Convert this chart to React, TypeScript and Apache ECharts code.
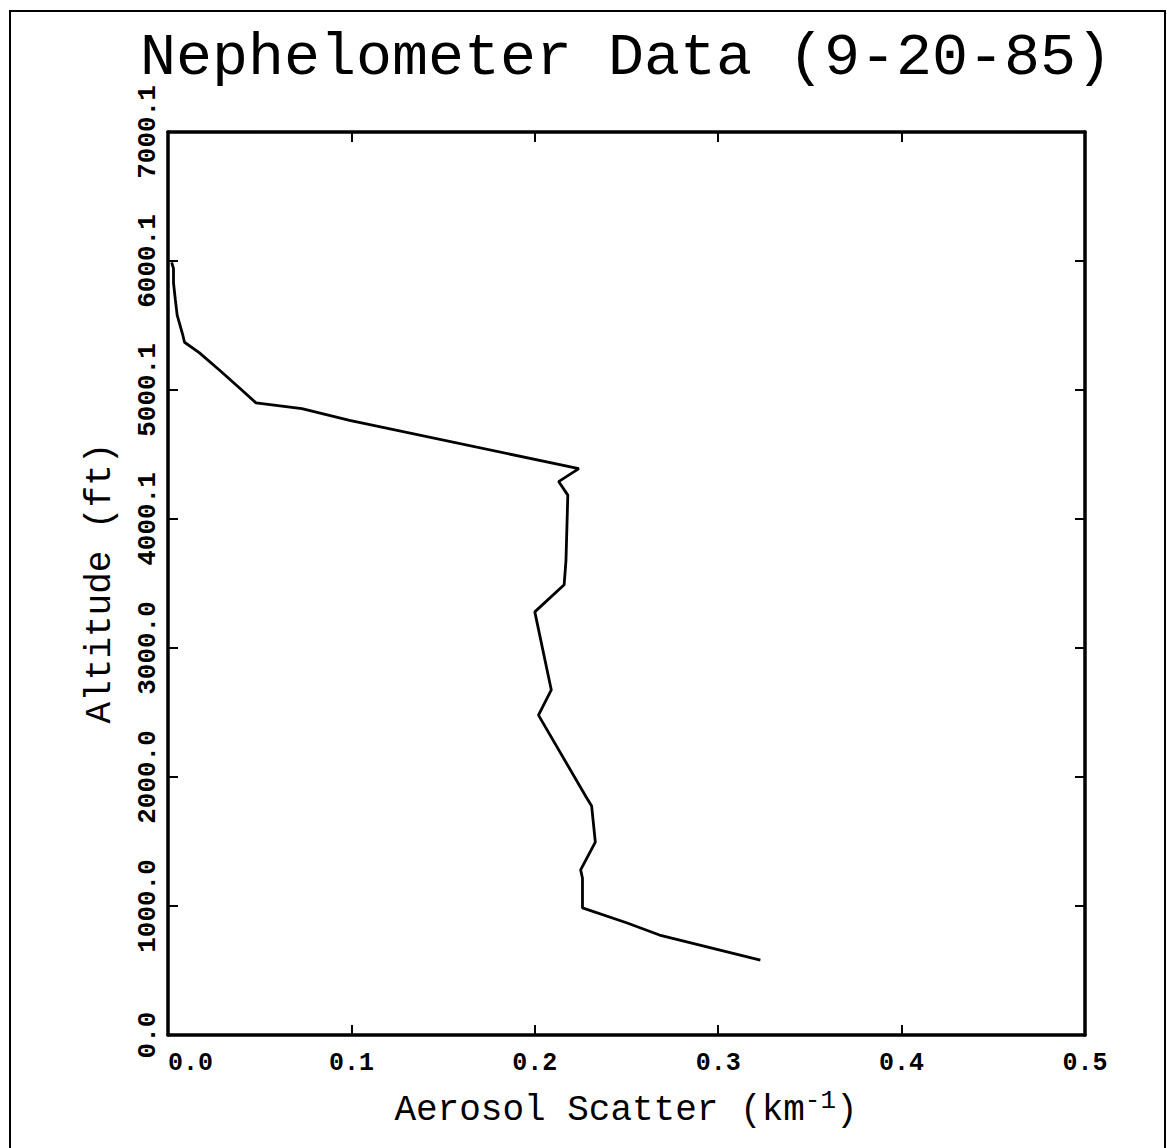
import React, { useEffect, useRef } from "react";
import * as echarts from "echarts";

const titleText = "Nephelometer Data (9-20-85)";
const xAxisNameMain = "Aerosol Scatter (km";
const xAxisNameSup = "-1";
const xAxisNameEnd = ")";
const yAxisName = "Altitude (ft)";
const xTickLabels = ["0.0", "0.1", "0.2", "0.3", "0.4", "0.5"];
const yTickLabels = ["0.0", "1000.0", "2000.0", "3000.0", "4000.1", "5000.1", "6000.1", "7000.1"];

const scatter = [
  0.002, 0.003, 0.003, 0.004, 0.005, 0.008, 0.009, 0.017, 0.028, 0.039,
  0.048, 0.073, 0.099, 0.224, 0.213, 0.218, 0.217, 0.216, 0.2, 0.209,
  0.202, 0.228, 0.231, 0.233, 0.225, 0.226, 0.226, 0.25, 0.268, 0.323,
];
const altitude = [
  5990, 5940, 5830, 5700, 5580, 5430, 5370, 5290, 5155, 5015,
  4900, 4855, 4765, 4390, 4290, 4185, 3680, 3490, 3280, 2675,
  2480, 1845, 1775, 1495, 1280, 1215, 985, 870, 775, 580,
];

const FONT = "'Liberation Mono', 'DejaVu Sans Mono', monospace";

export default function App() {
  const ref = useRef<HTMLDivElement>(null);
  useEffect(() => {
    const chart = echarts.init(ref.current!, null, { renderer: "svg" });
    const data = scatter.map((v, i) => [v, altitude[i]]);
    const line = { show: true, onZero: false, lineStyle: { color: "#000", width: 3.5 } };
    const tick = { show: true, inside: true, length: 10, lineStyle: { color: "#000", width: 2 } };
    const xBase = { type: "value", min: 0, max: 0.5, interval: 0.1, axisLine: line, axisTick: tick, splitLine: { show: false } };
    const yBase = { type: "value", min: 0, max: 7000, interval: 1000, axisLine: line, axisTick: tick, splitLine: { show: false } };
    chart.setOption({
      animation: false,
      backgroundColor: "#fff",
      grid: { left: 168, top: 132, right: 82, bottom: 113 },
      xAxis: [
        {
          ...xBase,
          position: "bottom",
          axisLabel: {
            formatter: (v: number) => xTickLabels[Math.round(v * 10)],
            fontFamily: FONT,
            fontSize: 25,
            fontWeight: "bold",
            color: "#000",
            margin: 16,
            alignMinLabel: "left",
          },
        },
        { ...xBase, position: "top", axisLabel: { show: false } },
      ],
      yAxis: [
        {
          ...yBase,
          position: "left",
          axisLabel: {
            formatter: (v: number) => yTickLabels[Math.round(v / 1000)],
            fontFamily: FONT,
            fontSize: 26,
            fontWeight: "bold",
            color: "#000",
            rotate: 90,
            margin: 7,
          },
        },
        { ...yBase, position: "right", axisLabel: { show: false } },
      ],
      series: [
        {
          type: "line",
          data,
          xAxisIndex: 0,
          yAxisIndex: 0,
          showSymbol: false,
          lineStyle: { color: "#000", width: 2.8 },
        },
      ],
      graphic: [
        {
          type: "rect",
          shape: { x: 10, y: 11, width: 1155, height: 1200 },
          style: { fill: "none", stroke: "#000", lineWidth: 2 },
          silent: true,
        },
        {
          type: "text",
          x: 626,
          y: 58,
          style: {
            text: titleText,
            fontFamily: FONT,
            fontSize: 60,
            fill: "#000",
            textAlign: "center",
            textVerticalAlign: "middle",
          },
        },
        {
          type: "text",
          x: 626,
          y: 1110,
          style: {
            text: `{a|${xAxisNameMain}}{s|${xAxisNameSup}}{a|${xAxisNameEnd}}`,
            textAlign: "center",
            textVerticalAlign: "middle",
            fill: "#000",
            rich: {
              a: { fontFamily: FONT, fontSize: 36, lineHeight: 44, fill: "#000" },
              s: { fontFamily: FONT, fontSize: 26, lineHeight: 44, verticalAlign: "top", fill: "#000" },
            },
          },
        },
        {
          type: "text",
          x: 100,
          y: 583,
          rotation: Math.PI / 2,
          style: {
            text: yAxisName,
            fontFamily: FONT,
            fontSize: 36,
            fill: "#000",
            textAlign: "center",
            textVerticalAlign: "middle",
          },
        },
      ],
    });
    return () => chart.dispose();
  }, []);
  return (
    <div
      ref={ref}
      style={{ position: "absolute", left: 0, top: 0, width: 1167, height: 1148, background: "#fff" }}
    />
  );
}
